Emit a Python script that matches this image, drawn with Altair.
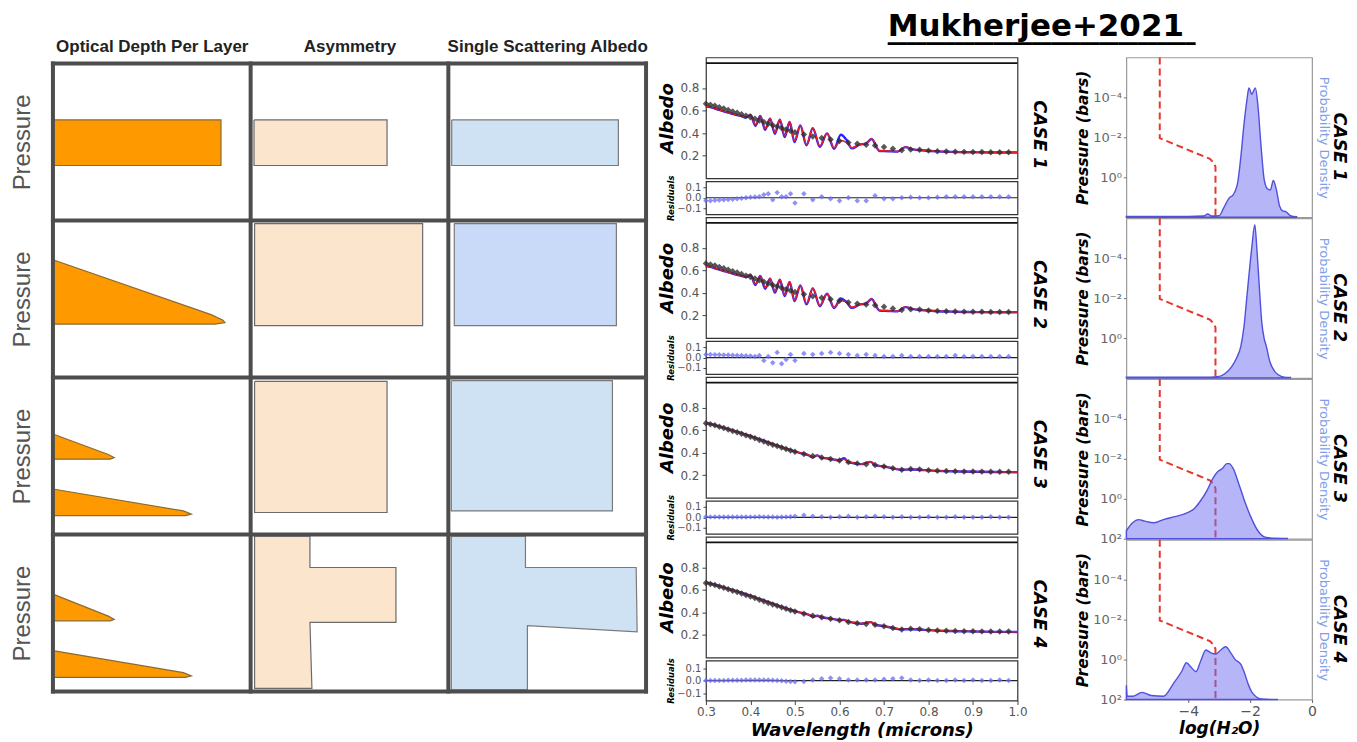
import altair as alt
import pandas as pd

# ------------------------------------------------------------------ text
TITLE = "Mukherjee+2021"
UNDERLINE = "\u2501" * 32
COL_TITLES = ["Optical Depth Per Layer", "Asymmetry", "Single Scattering Albedo"]
ROW_LABEL = "Pressure"
CASES = ["CASE 1", "CASE 2", "CASE 3", "CASE 4"]

# ------------------------------------------------------------------ schematic (left block)
# each shape: kind, grid row, grid column, vertex x / y as fractions of the cell
SHAPE_KIND = ["tau", "g", "w",
              "tau", "g", "w2",
              "tau", "tau", "g", "w",
              "tau", "tau", "g", "w"]
SHAPE_ROW = [0, 0, 0, 1, 1, 1, 2, 2, 2, 2, 3, 3, 3, 3]
SHAPE_COL = [0, 1, 2, 0, 1, 2, 0, 0, 1, 2, 0, 0, 1, 2]
SHAPE_FX = [
    [0.0, 0.85, 0.85, 0.0],
    [0.017, 0.69, 0.69, 0.017],
    [0.017, 0.86, 0.86, 0.017],
    [0.0, 0.80, 0.86, 0.87, 0.82, 0.0],
    [0.02, 0.87, 0.87, 0.02],
    [0.03, 0.85, 0.85, 0.03],
    [0.0, 0.28, 0.31, 0.29, 0.0],
    [0.0, 0.66, 0.70, 0.67, 0.0],
    [0.02, 0.69, 0.69, 0.02],
    [0.015, 0.83, 0.83, 0.015],
    [0.0, 0.28, 0.31, 0.29, 0.0],
    [0.0, 0.66, 0.70, 0.67, 0.0],
    [0.02, 0.30, 0.30, 0.735, 0.735, 0.30, 0.31, 0.02],
    [0.015, 0.39, 0.39, 0.95, 0.955, 0.40, 0.40, 0.015],
]
SHAPE_FY = [
    [0.36, 0.36, 0.65, 0.65],
    [0.36, 0.36, 0.65, 0.65],
    [0.36, 0.36, 0.65, 0.65],
    [0.25, 0.60, 0.635, 0.65, 0.66, 0.66],
    [0.02, 0.02, 0.67, 0.67],
    [0.02, 0.02, 0.67, 0.67],
    [0.36, 0.49, 0.51, 0.52, 0.52],
    [0.71, 0.85, 0.87, 0.88, 0.88],
    [0.025, 0.025, 0.86, 0.86],
    [0.02, 0.02, 0.85, 0.85],
    [0.38, 0.52, 0.54, 0.55, 0.55],
    [0.74, 0.88, 0.90, 0.91, 0.91],
    [0.01, 0.01, 0.21, 0.21, 0.56, 0.56, 0.98, 0.98],
    [0.01, 0.01, 0.21, 0.21, 0.62, 0.58, 0.99, 0.99],
]
GRID_COLS = [0, 1, 2, 3]
GRID_ROWS = [0, 1, 2, 3, 4]

# ------------------------------------------------------------------ albedo spectra (middle block)
WL_OBS = [0.30, 0.31, 0.32, 0.33, 0.34, 0.35, 0.36, 0.37, 0.38, 0.39, 0.40, 0.41, 0.42, 0.43, 0.44,
          0.45, 0.46, 0.47, 0.48, 0.49, 0.50, 0.52, 0.54, 0.56, 0.58, 0.60, 0.62, 0.64, 0.66, 0.68,
          0.70, 0.72, 0.74, 0.76, 0.78, 0.80, 0.82, 0.84, 0.86, 0.88, 0.90, 0.92, 0.94, 0.96, 0.98]
ALB_OBS = [0.660, 0.652, 0.642, 0.630, 0.618, 0.605, 0.592, 0.580, 0.567, 0.553, 0.540, 0.527, 0.512,
           0.498, 0.484, 0.470, 0.458, 0.445, 0.432, 0.420, 0.408, 0.388, 0.370, 0.357, 0.343, 0.330,
           0.316, 0.305, 0.298, 0.290, 0.278, 0.262, 0.248, 0.255, 0.252, 0.245, 0.240, 0.238, 0.236,
           0.234, 0.233, 0.232, 0.231, 0.231, 0.230]

WL_MODEL_A = [0.300, 0.310, 0.320, 0.330, 0.340, 0.350, 0.360, 0.370, 0.380, 0.390,
              0.400, 0.411, 0.422, 0.433, 0.444, 0.455, 0.466, 0.477, 0.488, 0.499,
              0.512, 0.526, 0.540, 0.556, 0.572, 0.588, 0.603, 0.615, 0.628, 0.645,
              0.660, 0.672, 0.690, 0.710, 0.730, 0.748, 0.765, 0.790, 0.820, 0.850,
              0.880, 0.910, 0.940, 0.970, 1.000]
RED_1 = [0.640, 0.632, 0.620, 0.607, 0.595, 0.583, 0.572, 0.561, 0.552, 0.540,
         0.565, 0.475, 0.555, 0.440, 0.530, 0.405, 0.520, 0.375, 0.500, 0.330,
         0.470, 0.300, 0.445, 0.285, 0.400, 0.270, 0.335, 0.320, 0.270, 0.300,
         0.310, 0.350, 0.245, 0.242, 0.238, 0.278, 0.258, 0.248, 0.240, 0.236,
         0.233, 0.232, 0.231, 0.230, 0.230]
BLUE_1 = [0.638, 0.630, 0.618, 0.605, 0.593, 0.581, 0.570, 0.559, 0.550, 0.538,
          0.563, 0.465, 0.553, 0.430, 0.528, 0.395, 0.518, 0.365, 0.498, 0.320,
          0.468, 0.292, 0.443, 0.278, 0.398, 0.262, 0.385, 0.345, 0.265, 0.298,
          0.308, 0.348, 0.242, 0.240, 0.236, 0.276, 0.256, 0.246, 0.238, 0.234,
          0.231, 0.230, 0.229, 0.228, 0.228]
RED_2 = [0.640, 0.632, 0.620, 0.608, 0.596, 0.584, 0.573, 0.562, 0.552, 0.541,
         0.562, 0.478, 0.552, 0.445, 0.528, 0.410, 0.518, 0.380, 0.498, 0.335,
         0.468, 0.305, 0.442, 0.288, 0.395, 0.272, 0.330, 0.318, 0.272, 0.298,
         0.308, 0.348, 0.246, 0.242, 0.238, 0.276, 0.258, 0.248, 0.240, 0.236,
         0.233, 0.232, 0.231, 0.230, 0.230]
BLUE_2 = [0.638, 0.630, 0.618, 0.606, 0.594, 0.582, 0.571, 0.560, 0.550, 0.539,
          0.560, 0.470, 0.550, 0.437, 0.526, 0.402, 0.516, 0.372, 0.496, 0.327,
          0.466, 0.298, 0.440, 0.282, 0.393, 0.266, 0.350, 0.322, 0.267, 0.296,
          0.306, 0.346, 0.243, 0.240, 0.236, 0.274, 0.256, 0.246, 0.238, 0.234,
          0.231, 0.230, 0.229, 0.228, 0.228]
WL_MODEL_B = [0.30, 0.32, 0.34, 0.36, 0.38, 0.40, 0.42, 0.44, 0.46, 0.48, 0.50,
              0.51, 0.52, 0.53, 0.54, 0.55, 0.56, 0.57, 0.58, 0.59, 0.60, 0.61, 0.62, 0.63,
              0.64, 0.65, 0.66, 0.67, 0.68,
              0.70, 0.72, 0.74, 0.76, 0.78, 0.80, 0.85, 0.90, 0.95, 1.00]
RED_3 = [0.665, 0.645, 0.622, 0.598, 0.574, 0.548, 0.520, 0.492, 0.463, 0.436, 0.412,
         0.400, 0.392, 0.380, 0.362, 0.378, 0.356, 0.352, 0.346, 0.338, 0.326, 0.342, 0.318, 0.310,
         0.303, 0.300, 0.312, 0.320, 0.292,
         0.278, 0.262, 0.250, 0.252, 0.250, 0.244, 0.236, 0.232, 0.230, 0.228]
BLUE_3 = [0.664, 0.644, 0.621, 0.597, 0.573, 0.547, 0.519, 0.491, 0.462, 0.435, 0.410,
          0.398, 0.390, 0.378, 0.358, 0.376, 0.354, 0.350, 0.344, 0.337, 0.332, 0.350, 0.316, 0.308,
          0.301, 0.298, 0.310, 0.318, 0.290,
          0.277, 0.261, 0.249, 0.251, 0.249, 0.243, 0.235, 0.231, 0.229, 0.227]
RED_4 = [0.668, 0.646, 0.623, 0.599, 0.575, 0.549, 0.521, 0.493, 0.464, 0.437, 0.413,
         0.402, 0.393, 0.382, 0.366, 0.372, 0.358, 0.353, 0.347, 0.339, 0.328, 0.335, 0.320, 0.312,
         0.305, 0.302, 0.310, 0.316, 0.294,
         0.279, 0.263, 0.251, 0.252, 0.250, 0.244, 0.236, 0.232, 0.229, 0.228]
BLUE_4 = [0.667, 0.645, 0.622, 0.598, 0.574, 0.548, 0.520, 0.492, 0.463, 0.436, 0.411,
          0.400, 0.391, 0.380, 0.362, 0.370, 0.356, 0.351, 0.345, 0.338, 0.331, 0.334, 0.318, 0.310,
          0.303, 0.300, 0.308, 0.314, 0.292,
          0.278, 0.262, 0.250, 0.251, 0.249, 0.243, 0.235, 0.231, 0.228, 0.227]

RES_1 = [-0.030, -0.028, -0.025, -0.022, -0.020, -0.018, -0.015, -0.010, -0.005, 0.000, 0.005,
         0.008, 0.010, 0.030, 0.040, -0.020, 0.050, 0.010, 0.010, 0.040, -0.050,
         0.040, -0.020, 0.010, -0.010, -0.030, 0.000, -0.030, -0.030, 0.020, -0.010, -0.010,
         0.000, 0.005, 0.000, 0.000, 0.005, 0.010, 0.010, 0.010, 0.010, 0.010, 0.010, 0.010, 0.010]
RES_2 = [0.030, 0.030, 0.028, 0.026, 0.025, 0.024, 0.022, 0.020, 0.020, 0.018, 0.015,
         0.010, 0.020, -0.030, 0.010, -0.050, 0.050, -0.060, -0.020, 0.030, -0.030,
         0.040, 0.030, 0.040, 0.050, 0.040, 0.030, 0.020, 0.030, 0.020, 0.010, 0.010,
         0.020, 0.010, 0.010, 0.010, 0.010, 0.010, 0.020, 0.010, 0.010, 0.010, 0.010, 0.010, 0.010]
RES_3 = [0.005, 0.004, 0.004, 0.003, 0.003, 0.002, 0.002, 0.002, 0.003, 0.003, 0.004,
         0.004, 0.005, 0.004, 0.003, 0.002, 0.000, 0.002, 0.004, 0.005, 0.010,
         0.020, 0.010, 0.005, 0.000, 0.005, 0.010, 0.000, 0.005, 0.010, 0.005, 0.000,
         0.005, 0.000, 0.000, 0.005, 0.000, 0.000, 0.005, 0.000, 0.000, 0.000, 0.005, 0.000, 0.000]
RES_4 = [0.000, 0.000, 0.000, 0.000, 0.000, 0.002, 0.002, 0.003, 0.003, 0.004, 0.005,
         0.005, 0.005, 0.004, 0.004, 0.002, 0.000, -0.002, -0.005, -0.008, -0.010,
         -0.008, 0.005, 0.015, 0.020, 0.015, 0.005, 0.005, 0.005, 0.005, 0.010, 0.015,
         0.020, 0.005, 0.000, 0.005, 0.000, 0.000, 0.005, 0.000, 0.005, 0.000, 0.000, 0.005, 0.000]

WL_TICKS = [0.3, 0.4, 0.5, 0.6, 0.7, 0.8, 0.9, 1.0]
ALB_TICKS = [0.2, 0.4, 0.6, 0.8]
ALB_TOP_LINE = [1.02]
RES_TICKS = [-0.1, 0.0, 0.1]

# ------------------------------------------------------------------ posteriors (right block)
PROFILE_H2O = [-4.92, -4.92, -3.30, -3.17, -3.12, -3.12]
PROFILE_P = [1e-6, 1.1e-2, 0.12, 0.19, 0.30, 1e2]

DENS_X_1 = [-6.0, -4.0, -3.5, -3.37, -3.25, -3.0, -2.85, -2.68, -2.55, -2.4, -2.3, -2.2, -2.1, -2.04,
            -1.95, -1.83, -1.75, -1.65, -1.55, -1.45, -1.35, -1.25, -1.15, -1.05, -0.95, -0.85, -0.7, -0.5]
DENS_Y_1 = [0.005, 0.005, 0.008, 0.02, 0.008, 0.01, 0.06, 0.12, 0.14, 0.22, 0.38, 0.58, 0.74, 0.81,
            0.77, 0.81, 0.70, 0.45, 0.24, 0.18, 0.17, 0.23, 0.17, 0.07, 0.04, 0.035, 0.01, 0.003]
DENS_X_2 = [-6.0, -3.3, -3.0, -2.8, -2.6, -2.45, -2.3, -2.2, -2.1, -2.0, -1.94, -1.85, -1.78, -1.72,
            -1.62, -1.55, -1.48, -1.36, -1.2, -1.09, -0.9, -0.7]
DENS_Y_2 = [0.005, 0.005, 0.01, 0.03, 0.07, 0.12, 0.20, 0.32, 0.52, 0.72, 0.83, 0.96, 0.80, 0.62,
            0.34, 0.25, 0.20, 0.10, 0.04, 0.02, 0.005, 0.003]
DENS_X_3 = [-6.0, -5.8, -5.6, -5.4, -5.1, -4.8, -4.4, -4.06, -3.8, -3.63, -3.4, -3.2, -3.05, -2.9,
            -2.75, -2.68, -2.55, -2.36, -2.15, -1.94, -1.75, -1.52, -1.2, -0.8]
DENS_Y_3 = [0.05, 0.10, 0.12, 0.11, 0.10, 0.12, 0.14, 0.16, 0.19, 0.23, 0.30, 0.38, 0.42, 0.44,
            0.47, 0.47, 0.44, 0.34, 0.22, 0.12, 0.05, 0.01, 0.003, 0.002]
DENS_X_4 = [-6.0, -5.97, -5.8, -5.49, -5.2, -4.8, -4.48, -4.2, -4.06, -3.9, -3.75, -3.6, -3.43, -3.25,
            -3.11, -2.95, -2.79, -2.62, -2.48, -2.3, -2.2, -2.05, -1.94, -1.62, -1.1]
DENS_Y_4 = [0.09, 0.02, 0.02, 0.045, 0.025, 0.02, 0.10, 0.18, 0.23, 0.20, 0.175, 0.24, 0.31, 0.29,
            0.285, 0.31, 0.33, 0.29, 0.25, 0.22, 0.175, 0.09, 0.045, 0.003, 0.0]

P_TICKS = [1e-4, 1e-2, 1.0, 1e2]
P_LABELS = ["10\u207b\u2074", "10\u207b\u00b2", "10\u2070", "10\u00b2"]
H2O_TICKS = [-4, -2, 0]

# ------------------------------------------------------------------ style / sizes
FONT = "DejaVu Sans"
LEFT_W, LEFT_H = 594, 635
LEFT_TOP = -0.038
ALB_W, ALB_H = 312, 121
RES_HS = [33, 33, 33, 40]
POST_W, POST_H = 186, 160
SHAPE_STYLE = {"tau": ("#FF9900", "#8B6A2E"), "g": ("#FCE5CD", "#6b6b6b"),
               "w": ("#CFE2F3", "#7a7a7a"), "w2": ("#C9DAF8", "#7a7a7a")}

# ------------------------------------------------------------------ left block
recs = []
for sid, (k, r, c, fx, fy) in enumerate(zip(SHAPE_KIND, SHAPE_ROW, SHAPE_COL, SHAPE_FX, SHAPE_FY)):
    pts = list(zip(fx, fy)) + [(fx[0], fy[0])]
    for j, (a, b) in enumerate(pts):
        recs.append({"sid": sid, "kind": k, "x": c + a, "y": r + b, "o": j})
shape_df = pd.DataFrame(recs)

head_expr = "datum.value < 1 ? '%s' : datum.value < 2 ? '%s' : '%s'" % tuple(COL_TITLES)
lx_axis = alt.Axis(orient="top", values=[0.5, 1.5, 2.5], labelExpr=head_expr, ticks=False,
                   domain=False, grid=False, title=None, labelFont="Liberation Sans",
                   labelFontSize=17, labelFontWeight="bold", labelColor="#222",
                   labelPadding=2, labelOverlap=False, labelFlush=False, labelLimit=0)
ly_axis = alt.Axis(orient="left", values=[0.5, 1.5, 2.5, 3.5], labelExpr="'%s'" % ROW_LABEL,
                   labelAngle=-90, labelAlign="center", labelBaseline="bottom",
                   labelFont="Liberation Sans", labelFontSize=24, labelColor="#555",
                   labelPadding=18, ticks=False, domain=False, grid=False, title=None,
                   labelOverlap=False, labelFlush=False, labelLimit=0)
lxs = alt.Scale(domain=[0, 3], nice=False, zero=False)
lys = alt.Scale(domain=[LEFT_TOP, 4], nice=False, zero=False, reverse=True)

left_layers = []
for kind, (fill, stroke) in SHAPE_STYLE.items():
    left_layers.append(
        alt.Chart(shape_df[shape_df["kind"] == kind])
        .mark_line(fill=fill, stroke=stroke, strokeWidth=1.2, strokeJoin="miter")
        .encode(x=alt.X("x:Q", scale=lxs, axis=lx_axis), y=alt.Y("y:Q", scale=lys, axis=ly_axis),
                detail="sid:N", order="o:Q")
    )
vdf = pd.DataFrame({"x": GRID_COLS, "y0": [GRID_ROWS[0]] * len(GRID_COLS), "y1": [GRID_ROWS[-1]] * len(GRID_COLS)})
hdf = pd.DataFrame({"y": GRID_ROWS, "x0": [GRID_COLS[0]] * len(GRID_ROWS), "x1": [GRID_COLS[-1]] * len(GRID_ROWS)})
left_layers.append(
    alt.Chart(vdf).mark_rule(color="#4d4d4d", strokeWidth=4, strokeCap="square")
    .encode(x=alt.X("x:Q", scale=lxs, axis=lx_axis), y=alt.Y("y0:Q", scale=lys, axis=ly_axis), y2="y1:Q"))
left_layers.append(
    alt.Chart(hdf).mark_rule(color="#4d4d4d", strokeWidth=4, strokeCap="square")
    .encode(y=alt.Y("y:Q", scale=lys, axis=ly_axis), x=alt.X("x0:Q", scale=lxs, axis=lx_axis), x2="x1:Q"))
left = alt.layer(*left_layers).properties(width=LEFT_W, height=LEFT_H,
                                           view=alt.ViewBackground(strokeWidth=0))

# ------------------------------------------------------------------ middle block
WL_MODEL = [WL_MODEL_A, WL_MODEL_A, WL_MODEL_B, WL_MODEL_B]
REDS = [RED_1, RED_2, RED_3, RED_4]
BLUES = [BLUE_1, BLUE_2, BLUE_3, BLUE_4]
RESS = [RES_1, RES_2, RES_3, RES_4]

wxs = alt.Scale(domain=[0.3, 1.0], nice=False, zero=False)


def albedo_panel(i):
    mdf = pd.DataFrame({"wl": WL_MODEL[i], "red": REDS[i], "blue": BLUES[i]})
    odf = pd.DataFrame({"wl": WL_OBS, "alb": ALB_OBS})
    ys = alt.Scale(domain=[0.0, 1.07], nice=False, zero=False)
    ya = alt.Axis(values=ALB_TICKS, format=".1f", title="Albedo", titleFontSize=18,
                  titleFontWeight="bold", titleFontStyle="italic", titleColor="#000",
                  titlePadding=3, labelFontSize=12, labelColor="#555", tickSize=4,
                  tickColor="#444", labelPadding=3, domain=False, grid=False,
                  minExtent=27, maxExtent=27)
    x = alt.X("wl:Q", scale=wxs, axis=None)
    top = alt.Chart(pd.DataFrame({"t": ALB_TOP_LINE})).mark_rule(color="#111", strokeWidth=1.6).encode(
        y=alt.Y("t:Q", scale=ys, axis=ya))
    blue = alt.Chart(mdf).mark_line(color="#2424ff", strokeWidth=2.4, interpolate="monotone").encode(
        x=x, y=alt.Y("blue:Q", scale=ys, axis=ya))
    red = alt.Chart(mdf).mark_line(color="#f01c24", strokeWidth=1.5, interpolate="monotone").encode(
        x=x, y=alt.Y("red:Q", scale=ys, axis=ya))
    pts = alt.Chart(odf).mark_point(shape="diamond", filled=True, size=42, color="#2e2e2e",
                                    opacity=0.8).encode(x=x, y=alt.Y("alb:Q", scale=ys, axis=ya))
    txt = alt.Chart(pd.DataFrame({"t": [CASES[i]]})).mark_text(
        angle=90, font=FONT, fontSize=17.5, fontWeight="bold", fontStyle="italic", color="#000"
    ).encode(text="t:N", x=alt.value(ALB_W + 22), y=alt.value(ALB_H * 0.64))
    return alt.layer(top, blue, red, pts, txt).properties(
        width=ALB_W, height=ALB_H, view=alt.ViewBackground(stroke="#333", strokeWidth=1.2))


def resid_panel(i):
    last = i == 3
    rdf = pd.DataFrame({"wl": WL_OBS, "r": RESS[i]})
    zdf = pd.DataFrame({"z": [0.0]})
    ys = alt.Scale(domain=[-0.16, 0.16], nice=False, zero=False)
    ya = alt.Axis(values=RES_TICKS, format=".1f", title="Residuals", titleFontSize=8.5,
                  titleFontWeight="bold", titleFontStyle="italic", titleColor="#000",
                  titlePadding=4, labelFontSize=10, labelColor="#555", tickSize=3,
                  tickColor="#444", labelPadding=2, domain=False, grid=False,
                  labelOverlap=False, labelFlush=False, minExtent=27, maxExtent=27)
    if last:
        xa = alt.Axis(values=WL_TICKS, format=".1f", labelFontSize=12, labelColor="#555",
                      tickSize=4, tickColor="#444", labelPadding=2, labelFlush=False,
                      title="Wavelength (microns)", titleFontSize=18, titleFontWeight="bold",
                      titleFontStyle="italic", titleColor="#000", titlePadding=4,
                      domain=False, grid=False)
    else:
        xa = None
    x = alt.X("wl:Q", scale=wxs, axis=xa)
    zero = alt.Chart(zdf).mark_rule(color="#222", strokeWidth=1.2).encode(
        y=alt.Y("z:Q", scale=ys, axis=ya))
    pts = alt.Chart(rdf).mark_point(shape="diamond", filled=True, size=30, color="#6a6af2",
                                    opacity=0.75).encode(x=x, y=alt.Y("r:Q", scale=ys, axis=ya))
    return alt.layer(zero, pts).properties(
        width=ALB_W, height=RES_HS[i], view=alt.ViewBackground(stroke="#333", strokeWidth=1.2))


middle_charts = []
for i in range(4):
    middle_charts.append(albedo_panel(i))
    middle_charts.append(resid_panel(i))
middle = alt.vconcat(*middle_charts, spacing=3, bounds="flush")

# ------------------------------------------------------------------ right block
DENS_X = [DENS_X_1, DENS_X_2, DENS_X_3, DENS_X_4]
DENS_Y = [DENS_Y_1, DENS_Y_2, DENS_Y_3, DENS_Y_4]
p_expr = " : ".join("datum.value == %r ? '%s'" % (v, lab) for v, lab in zip(P_TICKS, P_LABELS)) + " : ''"


def post_panel(i):
    last = i == 3
    pdf = pd.DataFrame({"h": PROFILE_H2O, "p": PROFILE_P, "o": list(range(len(PROFILE_P)))})
    ddf = pd.DataFrame({"h": DENS_X[i], "d": DENS_Y[i]})
    xs = alt.Scale(domain=[-6, 0], nice=False, zero=False)
    if last:
        xa = alt.Axis(values=H2O_TICKS, format="d", labelFontSize=14, labelColor="#555",
                      tickSize=3, tickColor="#666", labelPadding=2, labelFlush=False,
                      title="log(H\u2082O)", titleFontSize=17, titleFontWeight="bold",
                      titleFontStyle="italic", titleColor="#000", titlePadding=2,
                      domain=False, grid=False)
    else:
        xa = None
    vals = P_TICKS if i >= 2 else P_TICKS[:3]
    pa = alt.Axis(orient="left", values=vals, labelExpr=p_expr, title="Pressure (bars)",
                  titleFontSize=15.5, titleFontWeight="bold", titleFontStyle="italic",
                  titleColor="#000", titlePadding=3, labelFontSize=13, labelColor="#666",
                  tickSize=3, tickColor="#777", labelPadding=2, domain=False, grid=False,
                  labelOverlap=False, minExtent=33, maxExtent=33)
    da = alt.Axis(orient="right", title="Probability Density", labels=False, ticks=False,
                  domain=False, grid=False, titleColor="#7E9EEA", titleFontSize=13,
                  titleFontWeight="normal", titlePadding=4, titleFont=FONT)
    prof = alt.Chart(pdf).mark_line(color="#e8362c", strokeDash=[7, 4], strokeWidth=2).encode(
        x=alt.X("h:Q", scale=xs, axis=xa),
        y=alt.Y("p:Q", scale=alt.Scale(type="log", domain=[1e-6, 1e2], nice=False, reverse=True), axis=pa),
        order="o:Q")
    dens = alt.Chart(ddf).mark_area(interpolate="monotone", fill="#6b6bf0", fillOpacity=0.5,
                                    stroke="#5050dd", strokeWidth=1.4).encode(
        x=alt.X("h:Q", scale=xs, axis=xa),
        y=alt.Y("d:Q", scale=alt.Scale(domain=[0, 1], nice=False, zero=True), axis=da))
    txt = alt.Chart(pd.DataFrame({"t": [CASES[i]]})).mark_text(
        angle=90, font=FONT, fontSize=17.5, fontWeight="bold", fontStyle="italic", color="#000"
    ).encode(text="t:N", x=alt.value(POST_W + 27), y=alt.value(POST_H * 0.56))
    return alt.layer(prof, dens, txt).resolve_scale(y="independent").properties(
        width=POST_W, height=POST_H, view=alt.ViewBackground(stroke="#9a9a9a", strokeWidth=1.2))


right = alt.vconcat(*[post_panel(i) for i in range(4)], spacing=1, bounds="flush")

# ------------------------------------------------------------------ assemble
chart = alt.hconcat(left, alt.hconcat(middle, right, spacing=25), spacing=8).properties(
    title=alt.Title(TITLE, subtitle=UNDERLINE, anchor="start", dx=878, offset=-16,
                    fontSize=31, font=FONT, fontWeight="bold", color="#000",
                    subtitleFont=FONT, subtitleFontSize=16, subtitleColor="#000",
                    subtitlePadding=-6),
    padding={"left": 2, "top": 2, "right": 0, "bottom": 2},
).configure(font=FONT)

chart.save("out.html", embed_options={"renderer": "svg", "actions": False})
